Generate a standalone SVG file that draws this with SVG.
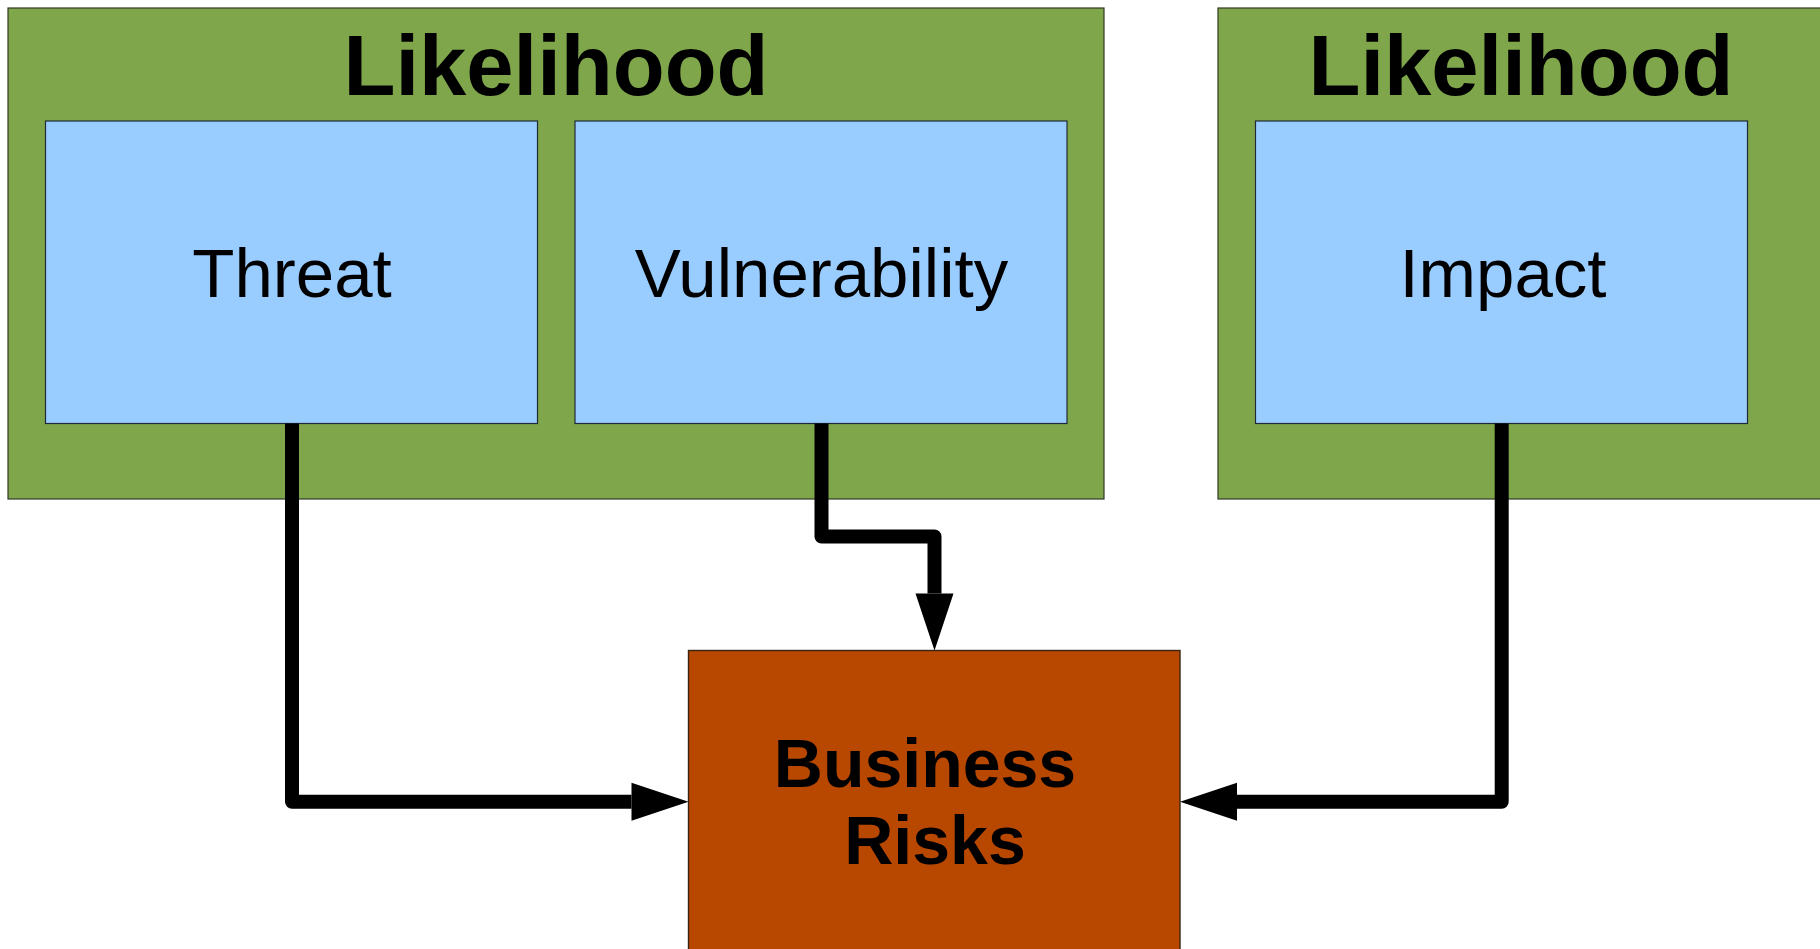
<svg xmlns="http://www.w3.org/2000/svg" width="1820" height="949" viewBox="0 0 1820 949">
  <style>
    .group { fill: #7fa64a; stroke: #2f3a24; stroke-width: 1.2; }
    .factor { fill: #99ccff; stroke: #1f2a38; stroke-width: 1.2; }
    .risk { fill: #b84700; stroke: #3a2410; stroke-width: 1.4; }
    .title { font-family: "Liberation Sans", Arial, sans-serif; font-weight: bold; font-size: 85px; fill: #000; text-anchor: middle; }
    .label { font-family: "Liberation Sans", Arial, sans-serif; font-size: 69px; fill: #000; text-anchor: middle; }
    .bold { font-family: "Liberation Sans", Arial, sans-serif; font-weight: bold; font-size: 68px; fill: #000; text-anchor: middle; }
    .wire { fill: none; stroke: #000; stroke-width: 14; stroke-linejoin: round; stroke-linecap: butt; }
  </style>
  <defs>
    <marker id="arrow" markerUnits="userSpaceOnUse" markerWidth="58" markerHeight="40" refX="0" refY="19" orient="auto" overflow="visible">
      <path d="M0,0 L57,19 L0,38 Z" fill="#000"/>
    </marker>
  </defs>

  <rect width="1820" height="949" fill="#fff"/>

  <!-- left grouping: threat and vulnerability -->
  <g id="likelihood-left">
    <rect class="group" x="8" y="8" width="1096" height="491"/>
    <text class="title" x="556" y="95">Likelihood</text>
  </g>

  <!-- right grouping: impact -->
  <g id="likelihood-right">
    <rect class="group" x="1218" y="8" width="620" height="491"/>
    <text class="title" x="1521" y="95">Likelihood</text>
  </g>

  <g id="threat">
    <rect class="factor" x="45.5" y="121" width="492" height="302.5"/>
    <text class="label" x="292" y="297">Threat</text>
  </g>

  <g id="vulnerability">
    <rect class="factor" x="575" y="121" width="492" height="302.5"/>
    <text class="label" x="821.5" y="297">Vulnerability</text>
  </g>

  <g id="impact">
    <rect class="factor" x="1255.5" y="121" width="492" height="302.5"/>
    <text class="label" x="1503" y="297">Impact</text>
  </g>

  <g id="business-risks">
    <rect class="risk" x="688.5" y="650.5" width="491.5" height="320"/>
    <text class="bold" x="925" y="787">Business</text>
    <text class="bold" x="935" y="864">Risks</text>
  </g>

  <!-- connectors: each path stops at the arrowhead base -->
  <g id="connectors">
    <path class="wire" d="M292,423.5 V801.7 H631.5" marker-end="url(#arrow)"/>
    <path class="wire" d="M821.5,423.5 V536.5 H934.5 V593.5" marker-end="url(#arrow)"/>
    <path class="wire" d="M1501.7,423.5 V801.7 H1237" marker-end="url(#arrow)"/>
  </g>
</svg>
